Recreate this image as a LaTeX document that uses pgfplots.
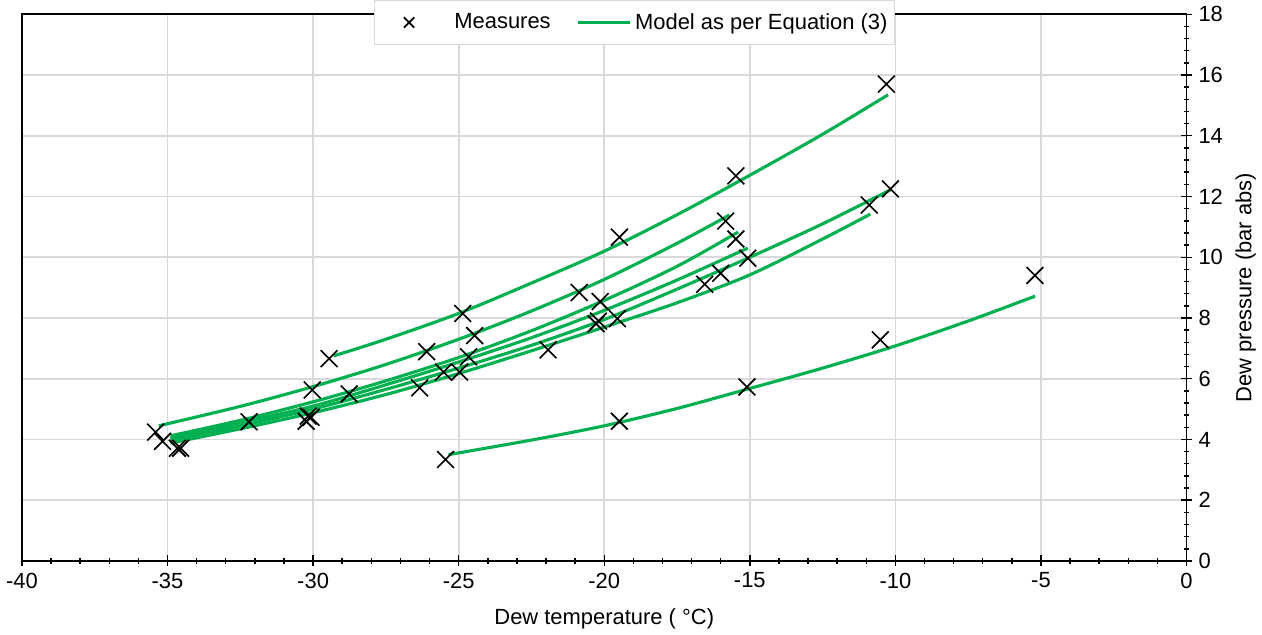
\documentclass[border=0pt]{standalone}
\usepackage{fontspec}
\setmainfont{Liberation Sans}
\usepackage{pgfplots}
\pgfplotsset{compat=1.18}
\definecolor{modelgreen}{HTML}{00B050}
\definecolor{gridgray}{HTML}{D9D9D9}
\newcommand{\chartfont}{\fontsize{12}{14}\selectfont}

\begin{document}
\begin{tikzpicture}
\begin{axis}[
    scale only axis,
    width=637pt, height=299pt,
    xmin=-40, xmax=0, ymin=0, ymax=18,
    xtick={-40,-35,...,0}, ytick={0,2,...,18},
    minor x tick num=4, minor y tick num=4,
    xtick pos=bottom, ytick pos=right, yticklabel pos=right,
    tick align=center,
    major tick length=6pt, minor tick length=3pt,
    tick style={black, line width=0.8pt},
    axis line style={black, line width=1pt},
    grid=major, major grid style={gridgray, line width=1pt},
    /pgf/number format/assume math mode=true,
    ticklabel style={font=\chartfont},
    xlabel={Dew temperature ( °C)},
    ylabel={Dew pressure (bar abs)},
    ylabel near ticks,
    xlabel style={font=\chartfont, yshift=-4pt},
    ylabel style={font=\chartfont},
    legend style={at={(rel axis cs:0.526,0.985)}, anchor=center,
        legend columns=2, draw=gridgray, fill=white, font=\chartfont,
        inner ysep=5pt, inner xsep=2pt,
        /tikz/every even column/.append style={column sep=12pt}},
    legend cell align=left,
]

% measured points
\addplot[only marks, mark=x, mark size=6.5pt, black, mark options={line width=0.9pt},
    legend image code/.code={\draw[black, mark=x, mark size=4pt, line width=0.9pt, only marks] plot coordinates {(0.6cm,0cm)}; \path[draw=none] (0cm,0cm) (1.4cm,0cm);}]
coordinates {
(-35.41,4.24) (-35.17,3.94) (-34.66,3.71) (-34.55,3.71) (-32.2,4.58)
(-30.24,4.6) (-30.17,4.77) (-30.07,4.73) (-30.03,5.63) (-29.45,6.66) (-28.76,5.5)
(-26.34,5.70) (-26.1,6.89) (-25.52,6.22) (-24.97,6.22) (-24.66,6.72) (-24.86,8.15) (-24.45,7.42)
(-21.93,6.95) (-20.86,8.84) (-20.14,8.54) (-20.28,7.81) (-20.2,7.9) (-19.55,7.98) (-19.48,10.66)
(-16.55,9.11) (-16.0,9.47) (-15.83,11.19) (-15.48,10.6) (-15.07,9.97) (-15.48,12.68)
(-10.31,15.7) (-10.17,12.25) (-10.9,11.72)
(-25.45,3.34) (-19.48,4.6) (-15.1,5.73) (-10.52,7.28) (-5.21,9.4)
};
\addlegendentry{Measures}

% model curves
\addplot[modelgreen, line width=1.7pt, smooth,
    legend image code/.code={\draw[modelgreen, line width=1.7pt] (0cm,0cm) -- (1cm,0cm);}]
coordinates {(-29.3,6.75) (-27.5,7.3) (-25,8.15) (-22.5,9.15) (-20,10.2) (-17.5,11.4) (-15,12.7) (-12.5,14.05) (-10.25,15.35)};
\addlegendentry{Model as per Equation (3)}

\addplot[modelgreen, line width=1.7pt, smooth, forget plot]
coordinates {(-35.3,4.45) (-32.5,5.09) (-30,5.74) (-27.5,6.47) (-25,7.30) (-22.5,8.23) (-20,9.27) (-17.5,10.46) (-15.7,11.39)};
\addplot[modelgreen, line width=1.7pt, smooth, forget plot]
coordinates {(-34.9,4.12) (-32.5,4.63) (-30,5.24) (-27.5,5.93) (-25,6.7) (-22.5,7.58) (-20,8.58) (-17.5,9.7) (-15.4,10.83)};
\addplot[modelgreen, line width=1.7pt, smooth, forget plot]
coordinates {(-34.9,4.05) (-32.5,4.55) (-30,5.1) (-27.5,5.8) (-25,6.55) (-22.5,7.35) (-20,8.25) (-17.5,9.25) (-15.07,10.3)};
\addplot[modelgreen, line width=1.7pt, smooth, forget plot]
coordinates {(-34.9,3.97) (-32.5,4.45) (-30,5.0) (-27.5,5.65) (-25,6.35) (-22.5,7.1) (-20,7.95) (-17.5,8.95) (-15,10.0) (-12.5,11.1) (-10.17,12.22)};
\addplot[modelgreen, line width=1.7pt, smooth, forget plot]
coordinates {(-34.9,3.88) (-32.5,4.35) (-30,4.88) (-27.5,5.48) (-25,6.17) (-22.5,6.92) (-20,7.7) (-17.5,8.5) (-15,9.42) (-12.5,10.6) (-10.86,11.42)};
\addplot[modelgreen, line width=1.7pt, smooth, forget plot]
coordinates {(-25.35,3.5) (-22.5,3.98) (-20,4.45) (-17.5,5.02) (-15,5.68) (-12.5,6.35) (-10,7.08) (-7.5,7.9) (-5.2,8.72)};

\end{axis}
\end{tikzpicture}
\end{document}
